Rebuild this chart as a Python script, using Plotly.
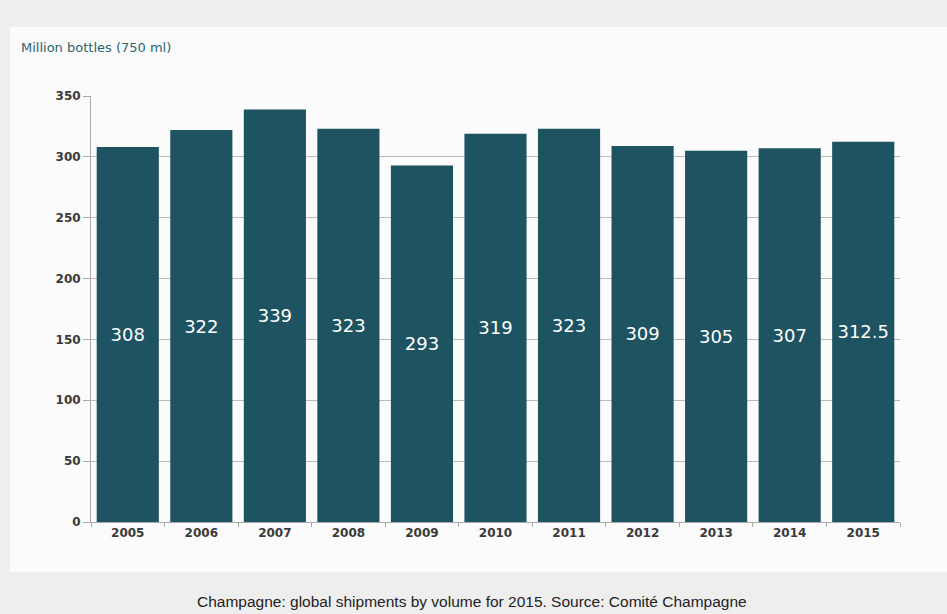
import plotly.graph_objects as go

years = ["2005", "2006", "2007", "2008", "2009", "2010", "2011", "2012", "2013", "2014", "2015"]
shipments = [308, 322, 339, 323, 293, 319, 323, 309, 305, 307, 312.5]
labels = ["308", "322", "339", "323", "293", "319", "323", "309", "305", "307", "312.5"]
y_ticks = [0, 50, 100, 150, 200, 250, 300, 350]

fig = go.Figure()
fig.add_trace(go.Bar(
    x=years, y=shipments, text=labels,
    textposition="inside", insidetextanchor="middle",
    textfont=dict(family="DejaVu Sans", size=18, color="white"),
    marker=dict(color="#1e5361", line=dict(width=0)),
    hoverinfo="x+y",
))

fig.update_layout(
    width=947, height=614,
    margin=dict(l=91, r=47, t=96, b=92),
    paper_bgcolor="#eeeeee",
    plot_bgcolor="#fbfbfb",
    bargap=0.155,
    showlegend=False,
    shapes=[
        dict(type="rect", xref="paper", yref="paper",
             x0=-81/809, x1=1 + 47/809, y0=-50/426, y1=1 + 69/426,
             fillcolor="#fbfbfb", line=dict(width=0), layer="below"),
    ],
    annotations=[
        dict(text="Million bottles (750 ml)", xref="paper", yref="paper",
             x=-72/809, y=1 + 49/426, xanchor="left", yanchor="middle",
             showarrow=False, font=dict(family="DejaVu Sans", size=13, color="#2b6472")),
        dict(text="Champagne: global shipments by volume for 2015. Source: Comité Champagne",
             xref="paper", yref="paper", x=(472 - 91) / 809, y=-79/426,
             xanchor="center", yanchor="middle", showarrow=False,
             font=dict(family="Liberation Sans", size=15.5, color="#222222")),
    ],
)

fig.update_xaxes(
    type="category", showgrid=False, showline=True, linecolor="#aaaaaa", linewidth=1,
    ticks="outside", tickson="boundaries", ticklen=4, tickcolor="#aaaaaa",
    tickfont=dict(family="DejaVu Sans", size=12, color="#3a3a3a", weight="bold"),
)
fig.update_yaxes(
    range=[0, 350], tickvals=y_ticks, showgrid=True, gridcolor="#bbbbbb", gridwidth=1,
    showline=True, linecolor="#aaaaaa", linewidth=1,
    ticks="outside", ticklen=7, tickcolor="#aaaaaa",
    tickfont=dict(family="DejaVu Sans", size=12, color="#3a3a3a", weight="bold"),
    zeroline=False,
)

fig.write_html("out.html", config={"displayModeBar": False},
               post_script="document.body.style.margin='0';")
